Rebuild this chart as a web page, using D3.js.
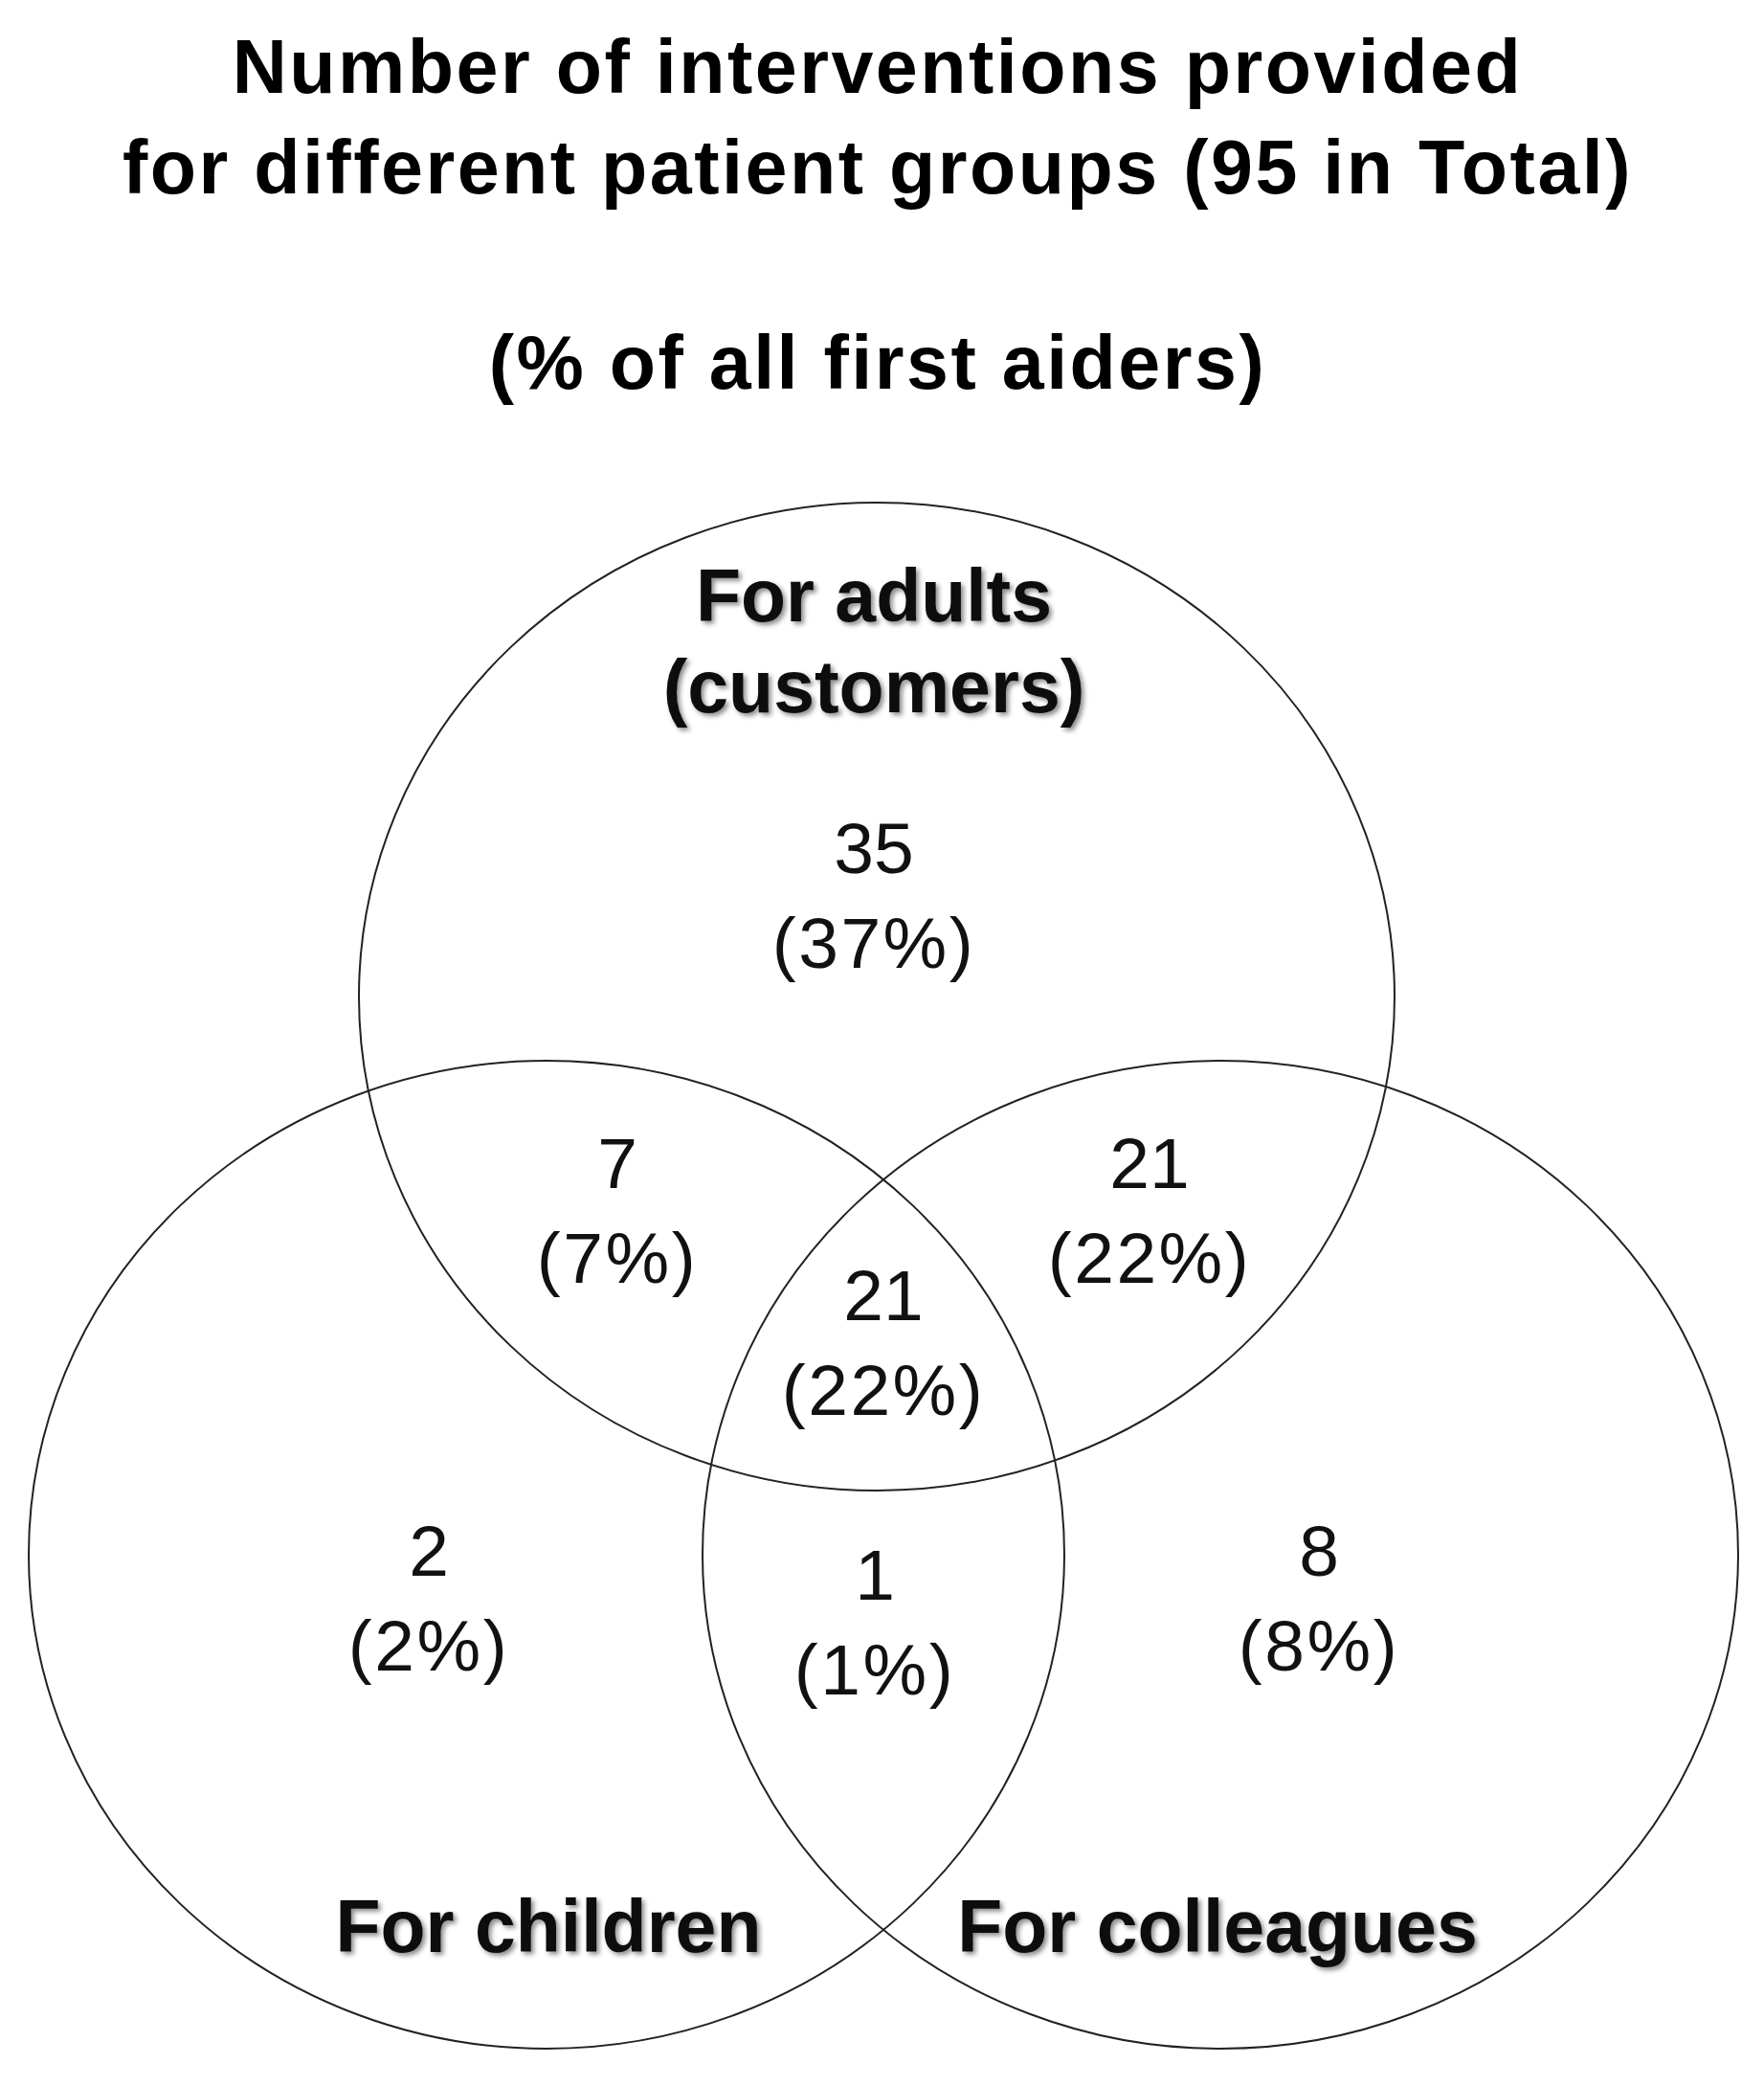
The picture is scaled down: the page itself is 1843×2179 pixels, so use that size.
<!DOCTYPE html>
<html><head><meta charset="utf-8">
<script src="https://cdn.jsdelivr.net/npm/d3@7"></script>
<style>body{margin:0;background:#fff}</style></head>
<body><svg id="c" width="1843" height="2179"></svg>
<script>
const titleLines = ["Number of interventions provided","for different patient groups (95 in Total)"];
const subtitle = "(% of all first aiders)";
const sets = [
  {name:["For adults","(customers)"], cx:916, cy:1041, lx:913, ly:[649,744]},
  {name:["For children"], cx:571, cy:1624, lx:573, ly:[2039]},
  {name:["For colleagues"], cx:1275, cy:1624, lx:1272, ly:[2039]}
];
const regions = ["Adults only","Adults & Children","Adults & Colleagues","All three","Children only","Children & Colleagues","Colleagues only"];
const counts = [35,7,21,21,2,1,8];
const percents = ["37%","7%","22%","22%","2%","1%","8%"];
const regionPos = [[913,912],[645,1241],[1201,1241],[923,1379],[448,1646],[914,1671],[1378,1646]];

const svg = d3.select("#c");
const font = "'Liberation Sans', Arial, sans-serif";
const defs = svg.append("defs");
const f = defs.append("filter").attr("id","sh").attr("x","-10%").attr("y","-30%").attr("width","130%").attr("height","180%");
f.append("feDropShadow").attr("dx",3).attr("dy",3).attr("stdDeviation",2.5).attr("flood-color","#000").attr("flood-opacity",0.45);

svg.selectAll("text.t").data(titleLines).join("text").attr("class","t")
  .attr("x",917).attr("y",(d,i)=>[97,202][i]).attr("text-anchor","middle")
  .attr("font-family",font).attr("font-weight","bold").attr("font-size",79).attr("letter-spacing",2.5).text(d=>d);
svg.append("text").attr("x",917).attr("y",406).attr("text-anchor","middle")
  .attr("font-family",font).attr("font-weight","bold").attr("font-size",79).attr("letter-spacing",2.5).text(subtitle);

svg.selectAll("ellipse").data(sets).join("ellipse")
  .attr("cx",d=>d.cx).attr("cy",d=>d.cy).attr("rx",541).attr("ry",516)
  .attr("fill","none").attr("stroke","#222").attr("stroke-width",2);

sets.forEach(s=>{
  s.name.forEach((n,i)=>{
    svg.append("text").attr("x",s.lx).attr("y",s.ly[i]).attr("text-anchor","middle")
      .attr("font-family",font).attr("font-weight","bold").attr("font-size",77)
      .attr("filter","url(#sh)").attr("fill","#111").text(n);
  });
});

const g = svg.selectAll("g.r").data(regions).join("g").attr("class","r")
  .attr("transform",(d,i)=>`translate(${regionPos[i][0]},${regionPos[i][1]})`);
g.append("text").attr("text-anchor","middle").attr("y",0).attr("font-family",font).attr("font-size",75).attr("fill","#111").text((d,i)=>counts[i]);
g.append("text").attr("text-anchor","middle").attr("y",99).attr("font-family",font).attr("font-size",75).attr("letter-spacing",2.5).attr("fill","#111").text((d,i)=>"("+percents[i]+")");
</script></body></html>
